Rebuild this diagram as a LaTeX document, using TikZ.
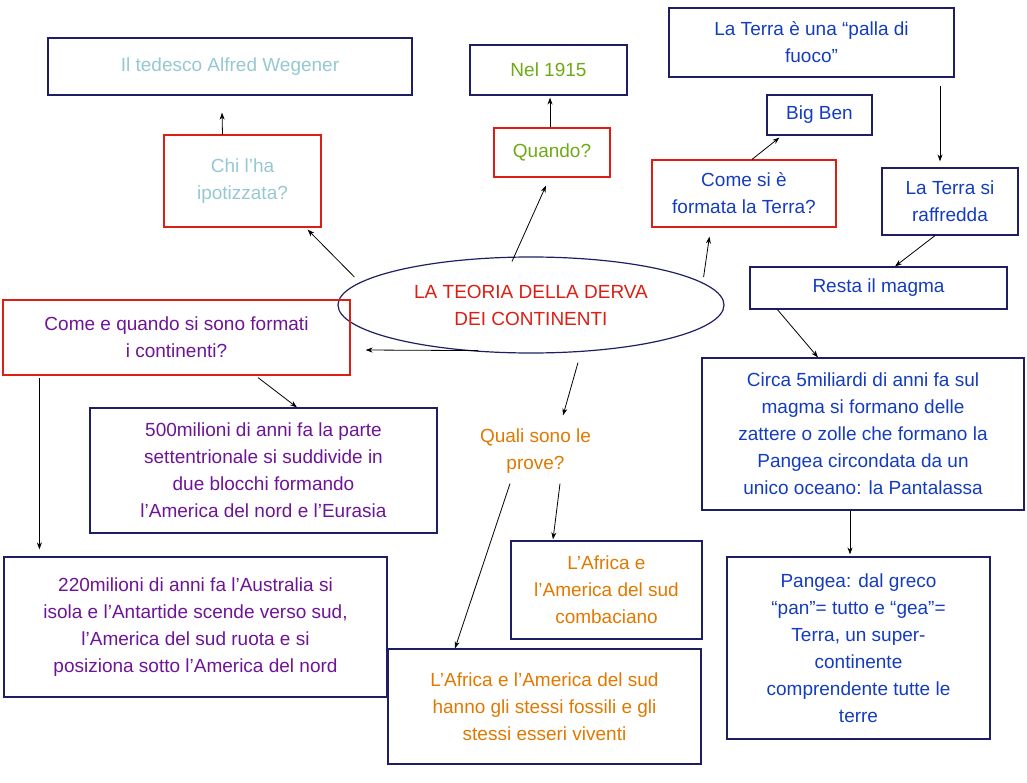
\documentclass[tikz,border=0pt]{standalone}
\usepackage{fontspec}
\setmainfont{Liberation Sans}
\usetikzlibrary{arrows.meta}
\usetikzlibrary{positioning}
\usetikzlibrary{shapes.geometric}
\definecolor{navy}{RGB}{30,30,100}
\definecolor{lblue}{RGB}{150,200,210}
\definecolor{tgreen}{RGB}{110,170,20}
\definecolor{tblue}{RGB}{20,60,190}
\definecolor{tred}{RGB}{220,30,20}
\definecolor{tpurple}{RGB}{110,20,150}
\definecolor{torange}{RGB}{225,120,0}
\tikzset{
  box/.style={draw=navy, line width=1.2pt, align=center, inner sep=0pt, font=\fontsize{19}{27}\selectfont},
  qbox/.style={box, draw=tred},
  arr/.style={-{Stealth[length=7pt,width=5pt]}, line width=0.8pt}
}
\begin{document}
\begin{tikzpicture}[x=1pt,y=-1pt]
		\useasboundingbox (0,0) rectangle (1027,783);
		\node[box, text=lblue, minimum width=364, minimum height=57] (wegener) at (230,66.5) {Il tedesco Alfred Wegener};
		\node[box, text=tgreen, minimum width=157, minimum height=50] (anno) at (548.5,70) {Nel 1915};
		\node[box, text=tblue, minimum width=285, minimum height=69] (fuoco) at (811.5,42.5) {La Terra è una “palla di\\fuoco”};
		\node[qbox, text=lblue, minimum width=157, minimum height=92] (chi) at (242.5,181) {Chi l’ha\\ipotizzata?};
		\node[qbox, text=tgreen, minimum width=116, minimum height=49] (quando) at (552,152.5) {Quando?};
		\node[box, text=tblue, minimum width=105, minimum height=40] (bigben) at (819.5,115) {Big Ben};
		\node[qbox, text=tblue, minimum width=184, minimum height=67] (formata) at (744,193.5) {Come si è\\formata la Terra?};
		\node[box, text=tblue, minimum width=136, minimum height=67] (raffredda) at (950,201.5) {La Terra si\\raffredda};
		\node[box, ellipse, text=tred, minimum width=386, minimum height=96] (teoria) at (531,305) {LA TEORIA DELLA DERVA\\DEI CONTINENTI};
		\node[box, text=tblue, minimum width=257, minimum height=42] (magma) at (878.5,288) {Resta il magma};
		\node[qbox, text=tpurple, minimum width=347, minimum height=75] (comequando) at (176.5,337.5) {Come e quando si sono formati\\i continenti?};
		\node[box, text=tpurple, minimum width=347, minimum height=125] (cinquecento) at (263.5,470.5) {500milioni di anni fa la parte\\settentrionale si suddivide in\\due blocchi formando\\l’America del nord e l’Eurasia};
		\node[box, text=tblue, minimum width=322, minimum height=152] (zattere) at (863,434) {Circa 5miliardi di anni fa sul\\magma si formano delle\\zattere o zolle che formano la\\Pangea circondata da un\\unico oceano: la Pantalassa};
		\node[box, draw=none, text=torange, minimum width=161, minimum height=63] (prove) at (535.5,451.5) {Quali sono le\\prove?};
		\node[box, text=tpurple, minimum width=383, minimum height=140] (duecento) at (195.5,627) {220milioni di anni fa l’Australia si\\isola e l’Antartide scende verso sud,\\l’America del sud ruota e si\\posiziona sotto l’America del nord};
		\node[box, text=torange, minimum width=191, minimum height=98] (combaciano) at (606.5,590) {L’Africa e\\l’America del sud\\combaciano};
		\node[box, text=torange, minimum width=313, minimum height=115] (fossili) at (544.5,706.5) {L’Africa e l’America del sud\\hanno gli stessi fossili e gli\\stessi esseri viventi};
		\node[box, text=tblue, minimum width=263, minimum height=182] (pangea) at (858.5,648) {Pangea: dal greco\\“pan”= tutto e “gea”=\\Terra, un super-\\continente\\comprendente tutte le\\terre};
		% connettori
		\draw[arr] ([xshift=-20]chi.north) -- ([xshift=-8,yshift=-17]wegener.south);
		\draw[arr] ([xshift=17,yshift=28]teoria.west) -- ([xshift=-14,yshift=-2]chi.south east);
		\draw[arr] ([xshift=-19,yshift=-5]teoria.north) -- ([xshift=-6,yshift=-8]quando.south);
		\draw[arr] ([xshift=-2]quando.north) -- ([xshift=1.5,yshift=-2]anno.south);
		\draw[arr] ([xshift=-21,yshift=28]teoria.east) -- ([xshift=58,yshift=-9]formata.south west);
		\draw[arr] ([xshift=8]formata.north) -- ([xshift=13,yshift=-2]bigben.south west);
		\draw[arr] ([xshift=128.5,yshift=-8]fuoco.south) -- ([xshift=-10,yshift=6]raffredda.north);
		\draw[arr] ([xshift=-15]raffredda.south) -- ([xshift=16.5]magma.north);
		\draw[arr] ([xshift=28]magma.south west) -- ([xshift=-45]zattere.north);
		\draw[arr] ([xshift=-13]zattere.south) -- ([xshift=-8.5,yshift=2]pangea.north);
		\draw[arr] ([xshift=-53,yshift=3]teoria.south) -- ([xshift=15,yshift=-12.5]comequando.east);
		\draw[arr] ([xshift=81.5,yshift=-2]comequando.south) -- ([xshift=33.5]cinquecento.north);
		\draw[arr] ([xshift=37,yshift=-2]comequando.south west) -- ([xshift=36,yshift=7]duecento.north west);
		\draw[arr] ([xshift=47,yshift=-9]teoria.south) -- ([xshift=27.5,yshift=4]prove.north);
		\draw[arr] ([xshift=24.5]prove.south) -- ([xshift=-53.5,yshift=1]combaciano.north);
		\draw[arr] ([xshift=-25.5]prove.south) -- ([xshift=-89.5]fossili.north);
	    \end{tikzpicture}
\end{document}
